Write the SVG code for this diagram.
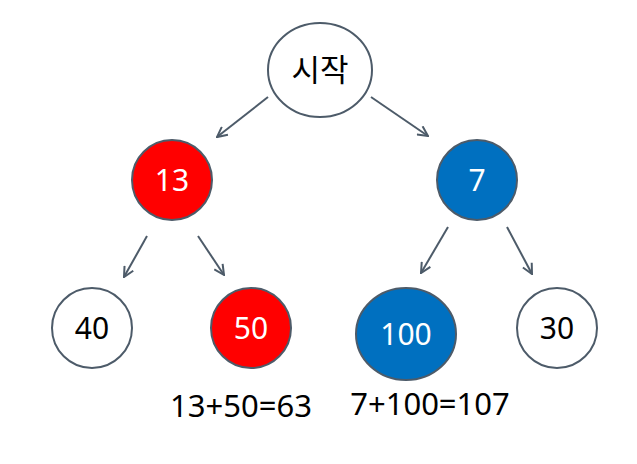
<svg xmlns="http://www.w3.org/2000/svg" width="637" height="464" viewBox="0 0 637 464">
<style>
.n{stroke:#4d5b69;stroke-width:2}
.w{fill:#ffffff}
.r{fill:#ff0000}
.b{fill:#0070c0}
text{font-family:"Noto Sans","Open Sans","Noto Sans CJK KR",sans-serif;text-anchor:middle}
.lt{font-size:30px;fill:#000}
.dt{font-size:30px;fill:#fff}
.st{font-size:31px;fill:#000}
.sum{font-size:31px;fill:#000}
.c line{stroke:#4d5b69;stroke-width:2;fill:none}
</style>
<defs>
<marker id="ah" viewBox="0 0 12 12" refX="11" refY="6" markerWidth="12" markerHeight="12" markerUnits="userSpaceOnUse" orient="auto">
<path d="M1,1 L11,6 L1,11" fill="none" stroke="#4d5b69" stroke-width="2"/>
</marker>
</defs>
<g class="c" id="connectors">
<line x1="268" y1="97" x2="217" y2="137" marker-end="url(#ah)"/>
<line x1="371" y1="97" x2="428" y2="136" marker-end="url(#ah)"/>
<line x1="147" y1="236" x2="124" y2="277" marker-end="url(#ah)"/>
<line x1="198" y1="236" x2="224" y2="275" marker-end="url(#ah)"/>
<line x1="448" y1="227" x2="421" y2="273" marker-end="url(#ah)"/>
<line x1="507" y1="227" x2="532" y2="274" marker-end="url(#ah)"/>
</g>
<g id="start"><ellipse class="n w" cx="320" cy="70" rx="52" ry="47"/><text class="st" x="320" y="81">시작</text></g>
<g id="n13"><circle class="n r" cx="172" cy="180" r="40"/><text class="dt" x="172" y="191">13</text></g>
<g id="n7"><circle class="n b" cx="477" cy="180" r="40"/><text class="dt" x="477" y="191">7</text></g>
<g id="n40"><circle class="n w" cx="92" cy="328" r="40"/><text class="lt" x="92" y="339">40</text></g>
<g id="n50"><circle class="n r" cx="251" cy="328" r="40"/><text class="dt" x="251" y="339">50</text></g>
<g id="n100"><ellipse class="n b" cx="406" cy="334" rx="50" ry="46"/><text class="dt" x="406" y="345">100</text></g>
<g id="n30"><circle class="n w" cx="557" cy="328" r="40"/><text class="lt" x="557" y="339">30</text></g>
<text class="sum" x="241" y="417">13+50=63</text>
<text class="sum" x="430" y="415">7+100=107</text>
</svg>
